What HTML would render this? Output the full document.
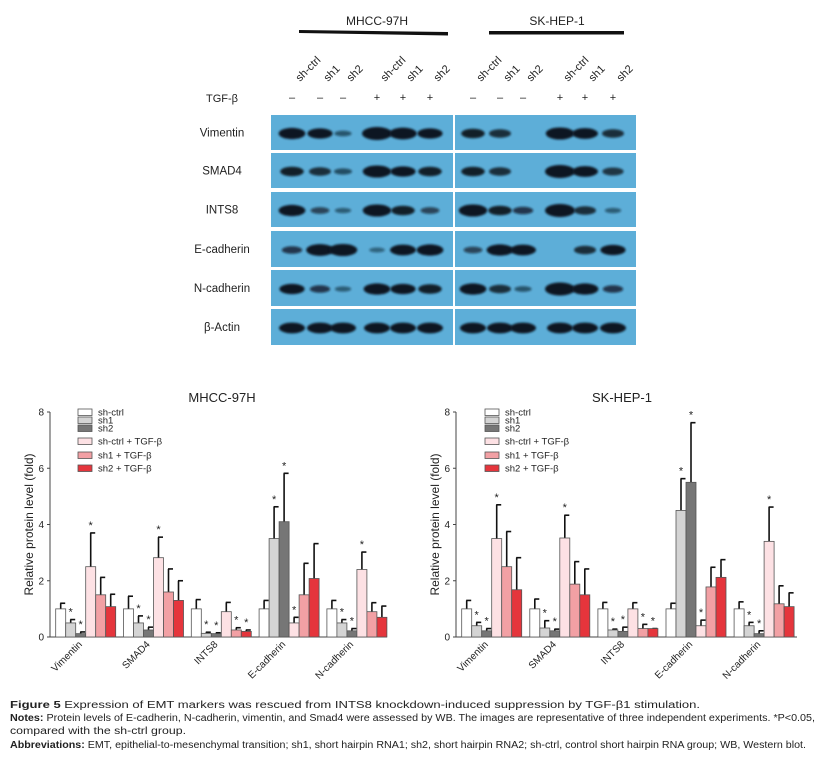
<!DOCTYPE html>
<html><head><meta charset="utf-8"><style>
html,body{margin:0;padding:0;background:#fff;}
svg{display:block;font-family:"Liberation Sans",sans-serif;}
</style></head><body>
<svg id="fig" width="825" height="758" viewBox="0 0 825 758" xmlns="http://www.w3.org/2000/svg">
<defs><filter id="blur" x="-50%" y="-100%" width="200%" height="300%"><feGaussianBlur stdDeviation="1.1"/></filter></defs>
<g id="blot"></g>
<g id="chartL"></g>
<g id="chartR"></g>
<g font-size="10" fill="#222">
<text x="10" y="708" textLength="690" lengthAdjust="spacingAndGlyphs"><tspan font-weight="bold">Figure 5</tspan> Expression of EMT markers was rescued from INTS8 knockdown-induced suppression by TGF-β1 stimulation.</text>
<text x="10" y="721" textLength="805" lengthAdjust="spacingAndGlyphs"><tspan font-weight="bold">Notes:</tspan> Protein levels of E-cadherin, N-cadherin, vimentin, and Smad4 were assessed by WB. The images are representative of three independent experiments. *P&lt;0.05,</text>
<text x="10" y="734" textLength="176" lengthAdjust="spacingAndGlyphs">compared with the sh-ctrl group.</text>
<text x="10" y="748" textLength="796" lengthAdjust="spacingAndGlyphs"><tspan font-weight="bold">Abbreviations:</tspan> EMT, epithelial-to-mesenchymal transition; sh1, short hairpin RNA1; sh2, short hairpin RNA2; sh-ctrl, control short hairpin RNA group; WB, Western blot.</text>
</g>
</svg>
<script>
// ---- chart data ----
const categories = ["Vimentin","SMAD4","INTS8","E-cadherin","N-cadherin"];
const seriesNames = ["sh-ctrl","sh1","sh2","sh-ctrl + TGF-β","sh1 + TGF-β","sh2 + TGF-β"];
const yTicks = [0,2,4,6,8];
// MHCC-97H: values[category][series]
const mhccValues = [[1.0,0.5,0.12,2.5,1.5,1.08],[1.0,0.5,0.25,2.82,1.6,1.3],[1.0,0.13,0.12,0.9,0.25,0.2],[1.0,3.5,4.1,0.5,1.5,2.08],[1.0,0.5,0.22,2.4,0.9,0.7]];
const mhccErrTop = [[1.2,0.62,0.18,3.7,2.12,1.52],[1.45,0.75,0.35,3.55,2.42,2.0],[1.33,0.17,0.15,1.23,0.33,0.25],[1.3,4.63,5.82,0.7,2.62,3.32],[1.3,0.62,0.3,3.02,1.22,1.1]];
const mhccStars = [[0,1,1,1,0,0],[0,1,1,1,0,0],[0,1,1,0,1,1],[0,1,1,1,0,0],[0,1,1,1,0,0]];
const skValues = [[1.0,0.4,0.22,3.5,2.5,1.68],[1.0,0.32,0.22,3.52,1.88,1.5],[1.0,0.25,0.2,1.0,0.3,0.3],[1.0,4.5,5.5,0.4,1.78,2.12],[1.0,0.4,0.12,3.4,1.18,1.08]];
const skErrTop = [[1.3,0.52,0.3,4.7,3.75,2.82],[1.35,0.58,0.28,4.33,2.68,2.42],[1.23,0.28,0.35,1.22,0.45,0.3],[1.2,5.63,7.62,0.6,2.48,2.75],[1.25,0.52,0.22,4.62,1.82,1.57]];
const skStars = [[0,1,1,1,0,0],[0,1,1,1,0,0],[0,1,1,0,1,1],[0,1,1,1,0,0],[0,1,1,1,0,0]];
// blot band intensities [row][lane]
const blotRows = ["Vimentin","SMAD4","INTS8","E-cadherin","N-cadherin","β-Actin"];
const blotLeft = [[0.8,0.7,0.2,1.0,0.85,0.7],[0.6,0.5,0.25,0.9,0.7,0.6],[0.8,0.3,0.15,0.9,0.6,0.3],[0.4,0.85,0.9,0.1,0.75,0.8],[0.7,0.4,0.15,0.8,0.7,0.6],[0.75,0.75,0.75,0.75,0.75,0.75]];
const blotRight = [[0.6,0.5,0.05,0.9,0.75,0.5],[0.6,0.5,0.05,1.0,0.75,0.45],[0.9,0.6,0.4,1.0,0.5,0.15],[0.3,0.8,0.75,0.05,0.5,0.7],[0.8,0.5,0.2,1.0,0.8,0.4],[0.75,0.75,0.75,0.75,0.75,0.75]];
const laneLabels = ["sh-ctrl","sh1","sh2","sh-ctrl","sh1","sh2"];
const tgfSigns = ["–","–","–","+","+","+"];

const NS="http://www.w3.org/2000/svg";
function mk(tag,attrs,parent,txt){const e=document.createElementNS(NS,tag);for(const k in attrs)e.setAttribute(k,attrs[k]);if(txt!==undefined)e.textContent=txt;parent.appendChild(e);return e;}
const colors=["#ffffff","#d4d4d4","#767676","#fde1e4","#f2a0a4","#e5353c"];

function drawChart(g,title,values,errTop,stars,ax){
  const y0=637,y8=412;
  const y=v=>y0-(y0-y8)*v/8;
  const xg=i=>ax.g0+i*ax.gs;
  const bw=10;
  const t=mk('text',{x:ax.tx,y:402,'text-anchor':'middle','font-size':13,fill:'#222'},g,title);
  
  
  const yt=mk('text',{transform:`translate(${ax.x-17},${(y0+y8)/2}) rotate(-90)`,'text-anchor':'middle','font-size':12,fill:'#222'},g,'Relative protein level (fold)');
  
  
  const axl=mk('path',{d:`M${ax.x},${y8} V${y0} H${ax.xe}`,stroke:'#444','stroke-width':1,fill:'none'},g);
  
  
  yTicks.forEach(v=>{
    mk('line',{x1:ax.x-3,x2:ax.x,y1:y(v),y2:y(v),stroke:'#444'},g);
    const tl=mk('text',{x:ax.x-6,y:y(v)+3.5,'text-anchor':'end','font-size':10,fill:'#222'},g,v);
    
    
  });
  categories.forEach((c,i)=>{
    values[i].forEach((v,s)=>{
      const bx=xg(i)+s*bw;
      const e=mk('line',{x1:bx+bw/2,x2:bx+bw/2,y1:y(v),y2:y(errTop[i][s]),stroke:'#111','stroke-width':1.6},g);
      
      
      mk('line',{x1:bx+bw/2-0.5,x2:bx+bw/2+4.5,y1:y(errTop[i][s]),y2:y(errTop[i][s]),stroke:'#111','stroke-width':1.6},g);
      const r=mk('rect',{x:bx,y:y(v),width:bw,height:y0-y(v),fill:colors[s],stroke:'#555','stroke-width':0.8},g);
      
      
      if(stars[i][s]){
        const st=mk('text',{x:bx+bw/2,y:y(errTop[i][s])-4,'text-anchor':'middle','font-size':11,fill:'#222'},g,'*');
        
        
      }
    });
    const cx=xg(i)+30;
    const xl=mk('text',{transform:`translate(${cx-3},${y0+8}) rotate(-45)`,'text-anchor':'end','font-size':10,fill:'#222'},g,c);
    
    
  });
  const ly=[412,420,428,441,455,468];
  seriesNames.forEach((n,s)=>{
    const lr=mk('rect',{x:ax.lx,y:ly[s]-3,width:14,height:6.5,fill:colors[s],stroke:'#555','stroke-width':0.8},g);
    
    
    const lt=mk('text',{x:ax.lx+20,y:ly[s]+3.5,'font-size':9.5,fill:'#222'},g,n);
    
    
  });
}
drawChart(document.getElementById('chartL'),'MHCC-97H',mhccValues,mhccErrTop,mhccStars,{x:50,xe:387,g0:55.7,gs:67.8,tx:222,lx:78});
drawChart(document.getElementById('chartR'),'SK-HEP-1',skValues,skErrTop,skStars,{x:456,xe:797,g0:461.7,gs:68.1,tx:622,lx:485});

// ---- western blot ----
(function(){
  const g=document.getElementById('blot');
  const rowY=[[115,150],[153,188],[192,227],[231,267],[270,306],[309,345]];
  const lanesL=[292,320,343,377,403,430], lanesR=[473,500,523,560,585,613];
  const h1=mk('text',{x:377,y:25,'text-anchor':'middle','font-size':12,fill:'#222'},g,'MHCC-97H');
  
  
  mk('polygon',{points:'299,30 448,32 448,35.5 299,33',fill:'#111'},g);
  const h2=mk('text',{x:557,y:25,'text-anchor':'middle','font-size':12,fill:'#222'},g,'SK-HEP-1');
  
  
  mk('rect',{x:489,y:31,width:135,height:3.5,fill:'#111'},g);
  const tg=mk('text',{x:222,y:102,'text-anchor':'middle','font-size':11,fill:'#222'},g,'TGF-β');
  
  
  [lanesL,lanesR].forEach(lanes=>lanes.forEach((lx,i)=>{
    const ll=mk('text',{transform:`translate(${lx+8},${82}) rotate(-45)`,'font-size':11,fill:'#222'},g,laneLabels[i]);
    
    
    const sg=mk('text',{x:lx,y:101,'text-anchor':'middle','font-size':11,fill:'#222'},g,tgfSigns[i]);
    
    
  }));
  blotRows.forEach((name,r)=>{
    const [a,b]=rowY[r];
    const rl=mk('text',{x:222,y:(a+b)/2+4,'text-anchor':'middle','font-size':11.5,fill:'#222'},g,name);
    
    
    [[271,453,lanesL,blotLeft],[455,636,lanesR,blotRight]].forEach(([x1,x2,lanes,data])=>{
      const p=mk('rect',{x:x1,y:a,width:x2-x1,height:b-a,fill:'#5daed8'},g);
      
      
      data[r].forEach((v,i)=>{
        if(v<0.06)return;
        const e=mk('ellipse',{cx:lanes[i],cy:(a+b)/2+1,rx:7+8*v,ry:2+4.5*v,fill:'#0a1520','fill-opacity':Math.min(1,0.4+0.9*v),filter:'url(#blur)'},g);
        
        
      });
    });
  });
})();
</script>
</body></html>
